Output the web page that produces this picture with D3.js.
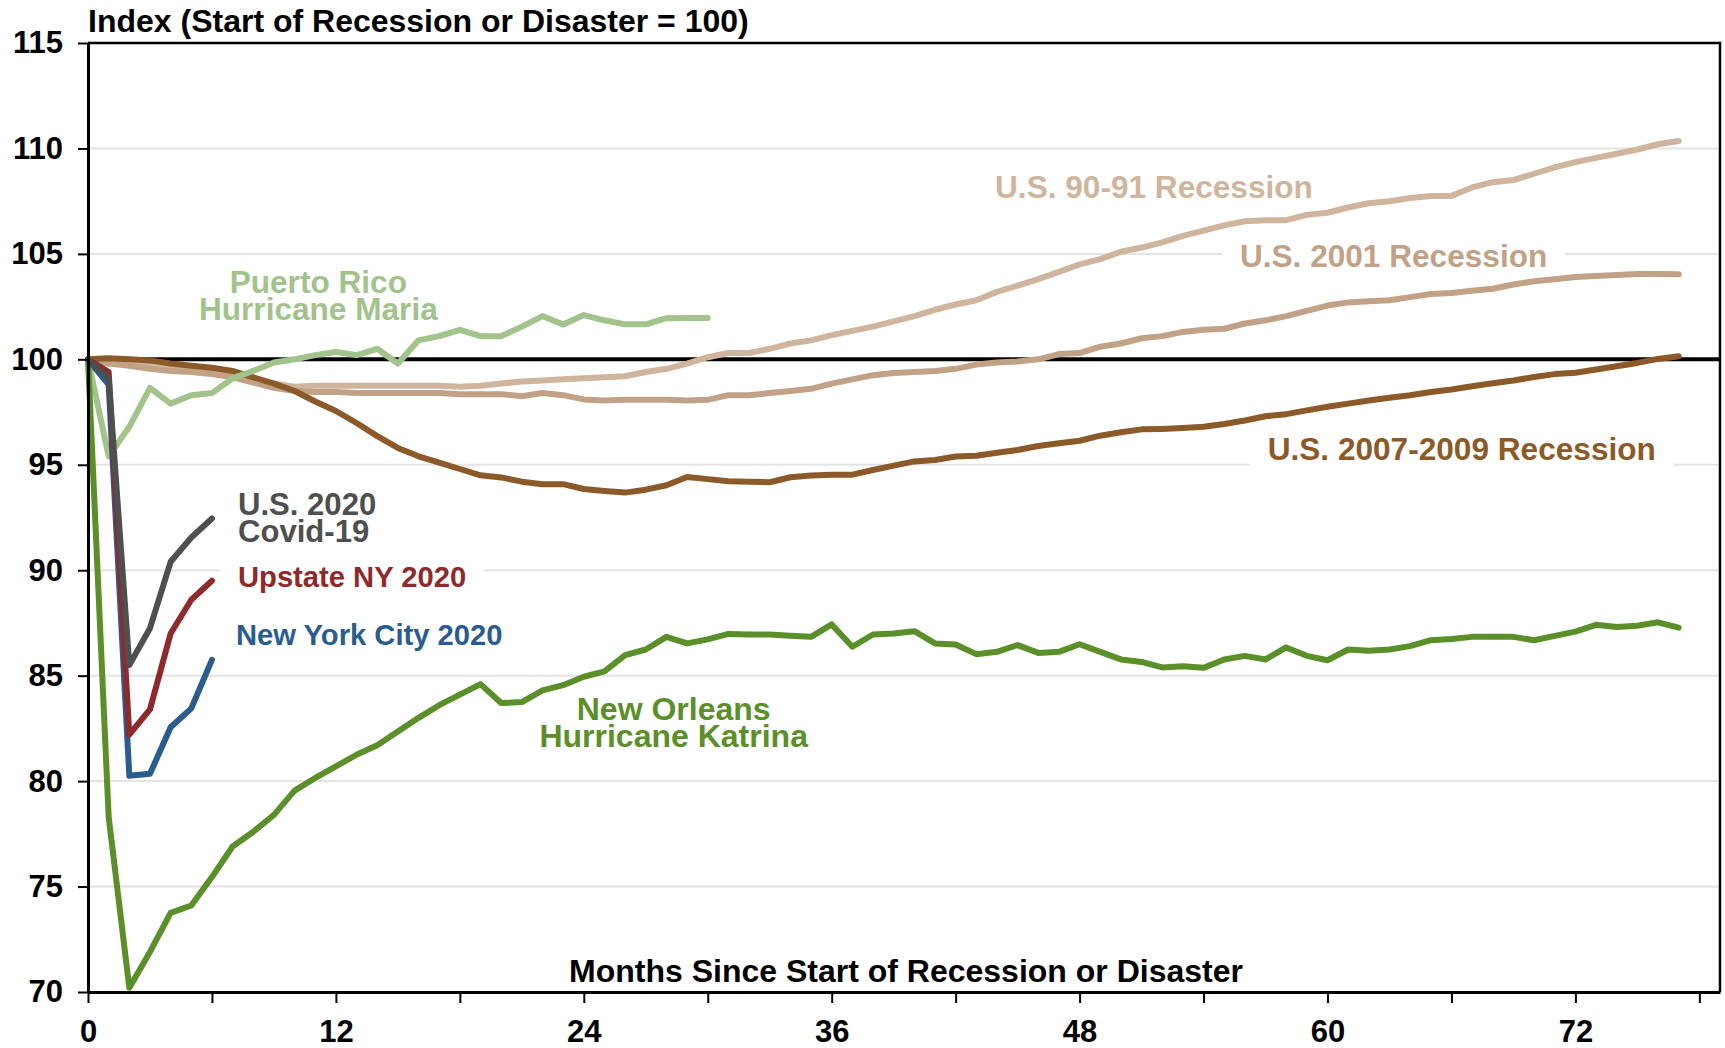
<!DOCTYPE html>
<html>
<head>
<meta charset="utf-8">
<script src="https://cdn.jsdelivr.net/npm/d3@7"></script>
<style>
  body { margin: 0; background: #fff; }
  svg { display: block; font-family: "Liberation Sans", Arial, sans-serif; font-weight: bold; }
</style>
</head>
<body>
<svg></svg>
<script>
// monthly index values, month 0 = start of recession / disaster
var us9091 = [100, 99.8, 99.75, 99.7, 99.6, 99.55, 99.45, 99.25, 99.0, 98.85,
  98.7, 98.75, 98.75, 98.75, 98.75, 98.75, 98.75, 98.75, 98.7, 98.75,
  98.85, 98.95, 99.0, 99.05, 99.1, 99.15, 99.2, 99.4, 99.55, 99.8,
  100.1, 100.3, 100.3, 100.5, 100.75, 100.9, 101.15, 101.35, 101.55, 101.8,
  102.05, 102.35, 102.6, 102.8, 103.2, 103.5, 103.8, 104.15, 104.5, 104.75,
  105.1, 105.3, 105.55, 105.85, 106.1, 106.35, 106.55, 106.6, 106.6, 106.85,
  106.95, 107.2, 107.4, 107.5, 107.65, 107.75, 107.75, 108.15, 108.4, 108.5,
  108.8, 109.1, 109.35, 109.55, 109.75, 109.95, 110.2, 110.35];

var us2001 = [100, 99.8, 99.7, 99.55, 99.45, 99.4, 99.3, 99.15, 98.9, 98.65,
  98.5, 98.45, 98.45, 98.4, 98.4, 98.4, 98.4, 98.4, 98.35, 98.35,
  98.35, 98.25, 98.4, 98.3, 98.1, 98.05, 98.08, 98.08, 98.08, 98.05,
  98.08, 98.3, 98.3, 98.4, 98.5, 98.6, 98.85, 99.05, 99.25, 99.35,
  99.4, 99.45, 99.55, 99.75, 99.85, 99.9, 100.0, 100.25, 100.3, 100.6,
  100.75, 101.0, 101.1, 101.3, 101.4, 101.45, 101.7, 101.85, 102.05, 102.3,
  102.55, 102.7, 102.75, 102.8, 102.95, 103.1, 103.15, 103.25, 103.35, 103.55,
  103.7, 103.8, 103.9, 103.95, 104.0, 104.05, 104.05, 104.03];

var us0709 = [100, 100.05, 100.0, 99.95, 99.8, 99.7, 99.6, 99.45, 99.15, 98.85,
  98.5, 98.0, 97.55, 96.98, 96.36, 95.8, 95.4, 95.1, 94.8, 94.5,
  94.4, 94.2, 94.08, 94.08, 93.85, 93.76, 93.68, 93.82, 94.03, 94.42,
  94.32, 94.22, 94.2, 94.17, 94.41, 94.49, 94.53, 94.53, 94.75, 94.96,
  95.16, 95.23, 95.39, 95.43, 95.57, 95.7, 95.89, 96.02, 96.14, 96.38,
  96.54, 96.68, 96.7, 96.74, 96.8, 96.93, 97.1, 97.3, 97.4, 97.58,
  97.75, 97.9, 98.05, 98.18, 98.3, 98.45, 98.57, 98.72, 98.87, 99.0,
  99.16, 99.3, 99.36, 99.52, 99.67, 99.83, 100.02, 100.15];

var puertoRico = [100, 95.4, 96.8, 98.65, 97.9, 98.3, 98.4, 99.1, 99.45, 99.85,
  100.0, 100.2, 100.35, 100.2, 100.5, 99.8, 100.9, 101.1, 101.4, 101.1,
  101.1, 101.55, 102.05, 101.65, 102.1, 101.85, 101.66, 101.66, 101.95, 101.96,
  101.96];

var newOrleans = [100, 78.3, 70.2, 71.9, 73.75, 74.1, 75.45, 76.9, 77.6, 78.4,
  79.55, 80.15, 80.7, 81.25, 81.7, 82.35, 83.0, 83.6, 84.1, 84.6,
  83.7, 83.75, 84.3, 84.55, 84.95, 85.2, 85.97, 86.24, 86.84, 86.53,
  86.72, 86.98, 86.95, 86.95, 86.89, 86.84, 87.43, 86.37, 86.95, 87.0,
  87.11, 86.53, 86.48, 86.02, 86.13, 86.45, 86.08, 86.13, 86.49, 86.13,
  85.77, 85.65, 85.39, 85.45, 85.37, 85.77, 85.94, 85.77, 86.34, 85.94,
  85.73, 86.24, 86.18, 86.24, 86.4, 86.68, 86.74, 86.84, 86.84, 86.84,
  86.68, 86.89, 87.09, 87.41, 87.31, 87.37, 87.53, 87.28];

var nyCity = [100, 98.8, 80.25, 80.35, 82.55, 83.45, 85.75];
var upstateNY = [100, 99.4, 82.2, 83.4, 87.0, 88.6, 89.5];
var covidUS = [100, 99.1, 85.5, 87.25, 90.4, 91.55, 92.45];

var yTicks = [70, 75, 80, 85, 90, 95, 100, 105, 110, 115];
var xTicks = [0, 6, 12, 18, 24, 30, 36, 42, 48, 54, 60, 66, 72, 78];
var xTickLabels = ["0", "", "12", "", "24", "", "36", "", "48", "", "60", "", "72", ""];

var yTitle = "Index (Start of Recession or Disaster = 100)";
var xTitle = "Months Since Start of Recession or Disaster";

// drawing order: first drawn is at the bottom
var series = [
  {name: "U.S. 90-91 Recession", values: us9091, color: "#cfb59d"},
  {name: "U.S. 2001 Recession", values: us2001, color: "#c1a287"},
  {name: "U.S. 2007-2009 Recession", values: us0709, color: "#8c5a29"},
  {name: "Puerto Rico Hurricane Maria", values: puertoRico, color: "#a2c38c"},
  {name: "New Orleans Hurricane Katrina", values: newOrleans, color: "#5b8f29"},
  {name: "New York City 2020", values: nyCity, color: "#2b5c8f"},
  {name: "Upstate NY 2020", values: upstateNY, color: "#8e2a2b"},
  {name: "U.S. 2020 Covid-19", values: covidUS, color: "#4f4f4f"}
];

// labels anchored in chart units (month, index)
var labels = [
  {lines: ["U.S. 90-91 Recession"], m: 51.6, v: 107.63, anchor: "middle", color: "#cfb59d", size: 31.6},
  {lines: ["U.S. 2001 Recession"], m: 63.2, v: 104.36, anchor: "middle", color: "#c1a287", size: 31.6, box: true},
  {lines: ["U.S. 2007-2009 Recession"], m: 66.5, v: 95.21, anchor: "middle", color: "#8c5a29", size: 31.6, box: true},
  {lines: ["Puerto Rico", "Hurricane Maria"], m: 11.15, v: 103.13, anchor: "middle", color: "#a2c38c", size: 31.6},
  {lines: ["U.S. 2020", "Covid-19"], m: 7.26, v: 92.6, anchor: "start", color: "#4f4f4f", size: 31.1},
  {lines: ["Upstate NY 2020"], m: 7.26, v: 89.19, anchor: "start", color: "#8e2a2b", size: 29.2, box: true},
  {lines: ["New York City 2020"], m: 7.16, v: 86.45, anchor: "start", color: "#2b5c8f", size: 29.2},
  {lines: ["New Orleans", "Hurricane Katrina"], m: 28.35, v: 82.89, anchor: "middle", color: "#5b8f29", size: 32}
];

(function (d3) {
  'use strict';

  var width = 1725, height = 1048,
    svg = d3.select("svg").attr("width", width).attr("height", height),
    x = d3.scaleLinear().domain([0, 79]).range([88, 1720]),
    y = d3.scaleLinear().domain([70, 115]).range([992, 43]);

  // grid
  svg.append("g")
    .selectAll("line")
    .data(yTicks.filter(function (t) { return t !== 70 && t !== 100 && t !== 115; }))
    .enter().append("line")
      .attr("x1", x(0)).attr("x2", x(79))
      .attr("y1", function (d) { return y(d); })
      .attr("y2", function (d) { return y(d); })
      .attr("stroke", "#e4e4e4")
      .attr("stroke-width", 2);

  // label boxes are drawn before the lines so they only hide gridlines
  var boxLayer = svg.append("g");

  // reference line at 100
  svg.append("line")
    .attr("x1", x(0)).attr("x2", x(79))
    .attr("y1", y(100)).attr("y2", y(100))
    .attr("stroke", "#000")
    .attr("stroke-width", 4);

  var line = d3.line()
    .x(function (d, i) { return x(i); })
    .y(function (d) { return y(d); });

  svg.append("g")
    .selectAll("path")
    .data(series)
    .enter().append("path")
      .attr("d", function (d) { return line(d.values); })
      .attr("fill", "none")
      .attr("stroke", function (d) { return d.color; })
      .attr("stroke-width", 6)
      .attr("stroke-linejoin", "round")
      .attr("stroke-linecap", "round");

  // frame
  svg.append("path")
    .attr("d", "M" + x(0) + "," + y(115) + "H" + x(79) + "V" + y(70))
    .attr("fill", "none")
    .attr("stroke", "#000")
    .attr("stroke-width", 2.5);

  // axes
  var yAxis = svg.append("g")
    .attr("transform", "translate(" + x(0) + ",0)")
    .call(d3.axisLeft(y).tickValues(yTicks).tickSize(10).tickSizeOuter(0).tickPadding(15));

  var xAxis = svg.append("g")
    .attr("transform", "translate(0," + y(70) + ")")
    .call(d3.axisBottom(x).tickValues(xTicks).tickSize(11).tickSizeOuter(0).tickPadding(17)
      .tickFormat(function (d, i) { return xTickLabels[i]; }));

  [yAxis, xAxis].forEach(function (a) {
    a.select(".domain").attr("stroke", "#000").attr("stroke-width", 3);
    a.selectAll(".tick line").attr("stroke", "#000").attr("stroke-width", 2);
    a.selectAll("text")
      .attr("fill", "#000")
      .attr("font-size", "31px")
      .attr("font-family", "'Liberation Sans', Arial, sans-serif")
      .attr("font-weight", "bold");
  });

  // titles
  svg.append("text")
    .attr("x", x(0)).attr("y", 32)
    .attr("font-size", "32px")
    .text(yTitle);

  svg.append("text")
    .attr("x", 906).attr("y", 982)
    .attr("text-anchor", "middle")
    .attr("font-size", "32px")
    .text(xTitle);

  // series labels
  labels.forEach(function (l) {
    var t = svg.append("text")
      .attr("x", x(l.m))
      .attr("y", y(l.v))
      .attr("text-anchor", l.anchor)
      .attr("fill", l.color)
      .attr("font-size", l.size + "px");
    t.selectAll("tspan")
      .data(l.lines)
      .enter().append("tspan")
        .attr("x", x(l.m))
        .attr("dy", function (d, i) { return i === 0 ? 0 : 27; })
        .text(function (d) { return d; });
    if (l.box) {
      var b = t.node().getBBox();
      boxLayer.append("rect")
        .attr("x", b.x - 18).attr("y", b.y - 4)
        .attr("width", b.width + 36).attr("height", b.height + 8)
        .attr("fill", "#fff");
    }
  });
}(d3));
</script>
</body>
</html>
